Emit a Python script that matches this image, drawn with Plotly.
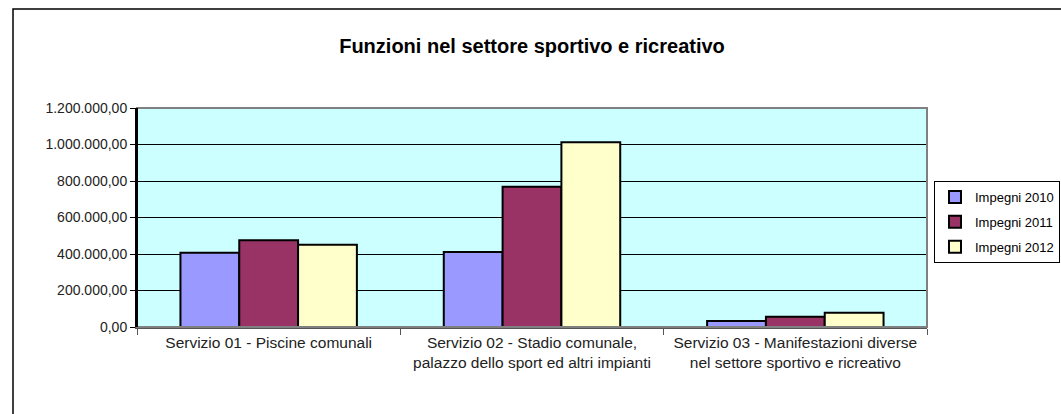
import plotly.graph_objects as go

# categories and values
categories = [
    "Servizio 01 - Piscine comunali",
    "Servizio 02 - Stadio comunale,<br>palazzo dello sport ed altri impianti",
    "Servizio 03 - Manifestazioni diverse<br>nel settore sportivo e ricreativo",
]
series_names = ["Impegni 2010", "Impegni 2011", "Impegni 2012"]
impegni_2010 = [407000, 411000, 33000]
impegni_2011 = [475000, 769000, 56000]
impegni_2012 = [451000, 1013000, 78000]
y_ticks = [0, 200000, 400000, 600000, 800000, 1000000, 1200000]
colors = ["#9999FF", "#993366", "#FFFFCC"]

W, H = 1061, 414
L, R, T, B = 137, 134, 108, 87
pw, ph = W - L - R, H - T - B


def px_x(p):
    return (p - L) / pw


def px_y(p):
    return 1 - (p - T) / ph


fig = go.Figure()
for name, vals, c in zip(series_names, [impegni_2010, impegni_2011, impegni_2012], colors):
    fig.add_trace(go.Bar(x=categories, y=vals, name=name, legendgroup=name,
                         marker=dict(color=c, line=dict(color="black", width=2))))

fig.update_layout(
    width=W, height=H,
    margin=dict(l=L, r=R, t=T, b=B, autoexpand=False),
    paper_bgcolor="white", plot_bgcolor="#CCFFFF",
    separators=",.",
    barmode="group", bargap=0.33, bargroupgap=0,
    font=dict(family="Arial, Liberation Sans, sans-serif", color="black"),
    title=dict(text="<b>Funzioni nel settore sportivo e ricreativo</b>",
               x=0.5, xref="paper", xanchor="center",
               y=1 - 46 / H, yanchor="middle",
               font=dict(size=20, color="black")),
    legend=dict(x=px_x(934), y=px_y(181), xanchor="left", yanchor="top",
                bordercolor="black", borderwidth=1, bgcolor="white",
                font=dict(size=13), tracegroupgap=5,
                itemwidth=30),
    showlegend=True,
)
fig.update_yaxes(range=[0, 1200000], tickvals=y_ticks,
                 tickformat=",.2f", showgrid=True, gridcolor="black", gridwidth=1,
                 showline=True, linecolor="black", linewidth=2,
                 ticks="outside", ticklen=5, tickcolor="black",
                 tickfont=dict(size=14, color="#222222"), zeroline=False)
fig.update_xaxes(showline=True, linecolor="#555555", linewidth=2,
                 ticks="outside", tickson="boundaries", ticklen=6, tickcolor="#555555",
                 tickfont=dict(size=15.5, color="#222222"))

# plot area frame (gray top/right) and outer chart border
fig.add_shape(type="rect", xref="paper", yref="paper", x0=0, y0=0, x1=1, y1=1,
              line=dict(color="#808080", width=2), layer="above")
fig.add_shape(type="line", xref="paper", yref="paper", x0=0, y0=0, x1=0, y1=1,
              line=dict(color="black", width=2), layer="above")
fig.add_shape(type="rect", xref="paper", yref="paper",
              x0=px_x(13), y0=px_y(440), x1=px_x(1066), y1=px_y(9),
              line=dict(color="black", width=1.5), layer="below")

fig.write_html("out.html", config={"displayModeBar": False},
               post_script="document.body.style.margin='0';")
